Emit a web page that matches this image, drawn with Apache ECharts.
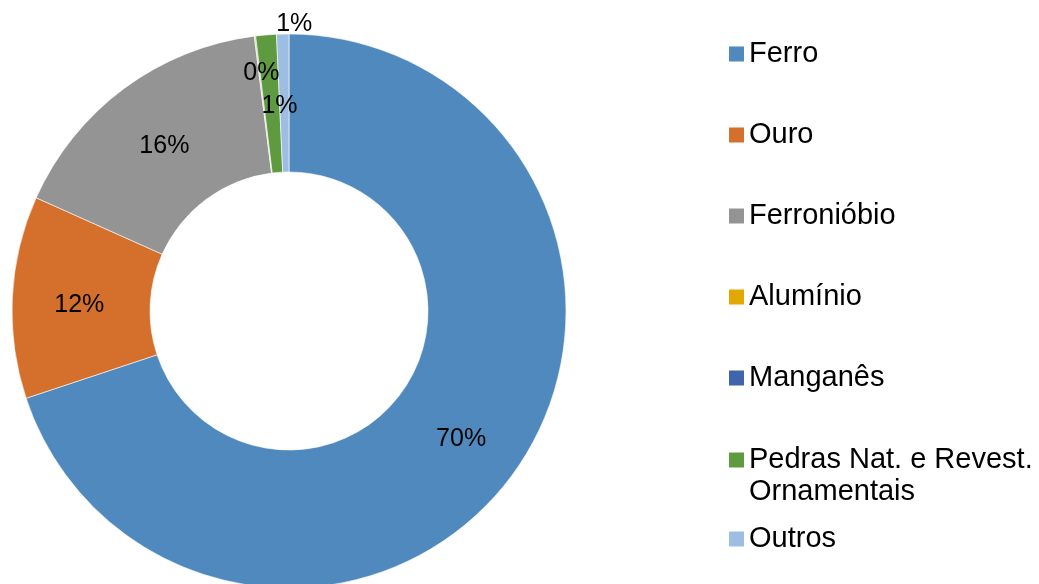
<!DOCTYPE html>
<html>
<head>
<meta charset="utf-8">
<script src="https://cdn.jsdelivr.net/npm/echarts@6/dist/echarts.min.js"></script>
<style>
  html, body { margin: 0; padding: 0; background: #fff; }
  #chart { width: 1039px; height: 584px; }
</style>
</head>
<body>
<div id="chart"></div>
<script>
// categories and shares (%)
var names = ['Ferro', 'Ouro', 'Ferronióbio', 'Alumínio', 'Manganês', 'Pedras Nat. e Revest.\nOrnamentais', 'Outros'];
var values = [69.9, 11.8, 16.3, 0.04, 0.04, 1.2, 0.72];
var colors = ['#4F89BD', '#D4702C', '#949494', '#E3A800', '#3E64AB', '#5E9A3F', '#9DBEE2'];

var FONT = "'Liberation Sans', Arial, sans-serif";

// small slices near the top carry their labels a bit off the middle
var labelTweaks = {
    'Alumínio': { show: false },
    'Manganês': { offset: [-2, -28] },
    'Pedras Nat. e Revest.\nOrnamentais': { offset: [8, 5] },
    'Outros': { offset: [10, -76] }
};

var chart = echarts.init(document.getElementById('chart'));

var seriesData = names.map(function(n, i) {
    var item = { name: n, value: values[i], itemStyle: { color: colors[i] } };
    if (labelTweaks[n]) item.label = labelTweaks[n];
    return item;
});

var legendText = {
    fontFamily: FONT,
    fontSize: 29,
    color: '#000',
    lineHeight: 32
};

var legendBase = {
    orient: 'vertical',
    left: 729,
    padding: 0,
    itemWidth: 15,
    itemHeight: 15,
    icon: 'rect',
    itemStyle: { borderWidth: 0 },
    textStyle: legendText
};

var option = {
    animation: false,
    legend: [
        echarts.util.extend({
            top: 38,
            itemGap: 49,
            data: names.slice(0, 5)
        }, legendBase),
        echarts.util.extend({
            top: 412,
            itemGap: 15,
            formatter: function(name) {
                return name.indexOf('\n') >= 0 ? '\n' + name : name;
            },
            data: names.slice(5)
        }, legendBase)
    ],
    series: [{
        type: 'pie',
        center: [289, 311],
        radius: [139, 277],
        startAngle: 90,
        clockwise: true,
        avoidLabelOverlap: false,
        itemStyle: { borderColor: '#fff', borderWidth: 0.6 },
        label: {
            show: true,
            position: 'inside',
            offset: [1, 5],
            fontFamily: FONT,
            fontSize: 25,
            color: '#000',
            formatter: function(p) {
                return Math.round(p.percent) + '%';
            }
        },
        labelLine: { show: false },
        emphasis: { disabled: true },
        data: seriesData
    }]
};

chart.setOption(option);
</script>
</body>
</html>
